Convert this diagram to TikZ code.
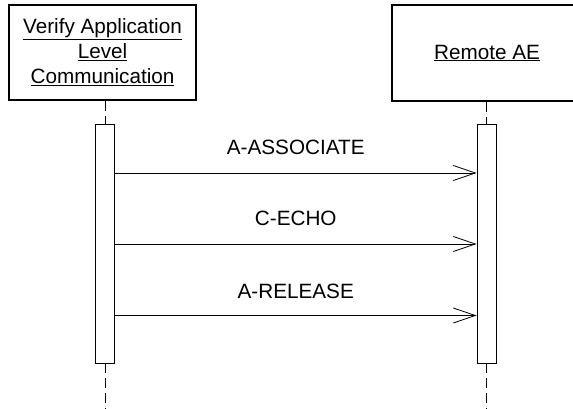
\documentclass[tikz,border=0pt]{standalone}
\usepackage{fontspec}
\setmainfont{Liberation Sans}
\usepackage{tikz}
\usetikzlibrary{arrows.meta,positioning}

\begin{document}
\begin{tikzpicture}[x=1pt,y=-1pt,
    actor/.style={draw, line width=1.3pt, fill=white, align=center, inner sep=0pt,
      font=\fontsize{20.7}{25}\selectfont},
    actbar/.style={draw, line width=0.9pt, fill=white, minimum width=19pt, inner sep=0pt},
    lifeline/.style={line width=1pt, dash pattern=on 10pt off 5pt},
    msg/.style={line width=0.8pt, -{Straight Barb[length=22pt,width=15pt,line width=0.8pt]}},
    lbl/.style={inner sep=0pt, font=\fontsize{20.7}{25}\selectfont}]
  \useasboundingbox (0,0) rectangle (573,409);
  % Actors
  \node[actor, minimum width=187pt, minimum height=95pt] (vala) at (102.5,52.5)
    {\underline{Verify Application}\\\underline{Level}\\\underline{Communication}};
  \node[actor, minimum width=190pt, minimum height=96pt] (rae) at (487,53)
    {\underline{Remote AE}};
  % Activation bars
  \node[actbar, minimum height=239pt] (lbar) at (105,243.5) {};
  \node[actbar, minimum height=239pt] (rbar) at (486.5,243.5) {};
  % Lifelines
  \coordinate (lend) at (105,409);
  \coordinate (rend) at (486.5,409);
  \draw[lifeline] (vala.south -| lbar) -- (lbar.north);
  \draw[lifeline] (rae.south -| rbar) -- (rbar.north);
  \draw[lifeline] (lbar.south) -- (lend);
  \draw[lifeline] (rbar.south) -- (rend);
  % Messages
  \coordinate (m1) at (0,173);
  \coordinate (m2) at (0,244);
  \coordinate (m3) at (0,315.5);
  \draw[msg] (lbar.east |- m1) -- node[lbl, midway, above=18pt] {A-ASSOCIATE} (rbar.west |- m1);
  \draw[msg] (lbar.east |- m2) -- node[lbl, midway, above=18pt] {C-ECHO} (rbar.west |- m2);
  \draw[msg] (lbar.east |- m3) -- node[lbl, midway, above=16pt] {A-RELEASE} (rbar.west |- m3);
\end{tikzpicture}
\end{document}
